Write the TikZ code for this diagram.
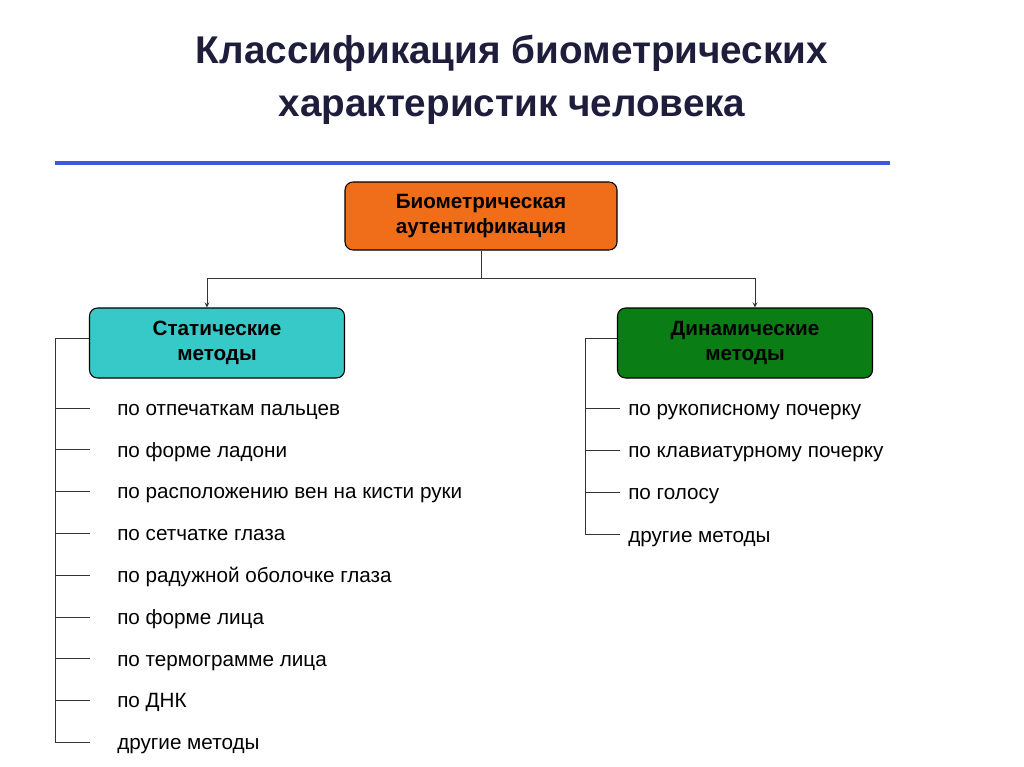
\documentclass[tikz,border=0pt]{standalone}
\usepackage{fontspec}
\setmainfont{Liberation Sans}
\definecolor{titlecol}{RGB}{30,30,60}
\definecolor{rulecol}{RGB}{60,90,220}
\definecolor{topcol}{RGB}{240,110,25}
\definecolor{statcol}{RGB}{55,200,200}
\definecolor{dyncol}{RGB}{10,125,20}
\begin{document}
\begin{tikzpicture}[x=0.75pt,y=-0.75pt,
    box/.style={rectangle, draw=black, thick, rounded corners=6pt, align=center, font=\bfseries\fontsize{15.5}{19}\selectfont},
    item/.style={anchor=west, inner sep=0pt, text height=1.6ex, text depth=0.4ex, font=\fontsize{15.5}{18}\selectfont},
    link/.style={draw=black!80, line width=0.7pt},
    arrow/.style={->, >=stealth, draw=black!80, line width=0.7pt}
]
\useasboundingbox (0,0) rectangle (1024,767);

\node[font=\bfseries\fontsize{29}{40}\selectfont, text=titlecol, align=center] (title) at (512,80) {Классификация биометрических\\характеристик человека};
\draw[rulecol, line width=2.5pt] (55,163) -- (890,163);

\node[box, fill=topcol, minimum width=272*0.75pt, minimum height=68*0.75pt] (auth) at (481,216) {Биометрическая\\аутентификация};
\node[box, fill=statcol, minimum width=255*0.75pt, minimum height=70*0.75pt] (stat) at (217,343) {Статические\\методы};
\node[box, fill=dyncol, minimum width=255*0.75pt, minimum height=70*0.75pt] (dyn) at (745,343) {Динамические\\методы};

\coordinate (fork) at (481,278);
\coordinate (forkl) at (207,278);
\coordinate (forkr) at (755,278);
\draw[link] (auth.south) -- (fork);
\draw[link] (forkl) -- (forkr);
\draw[arrow] (forkl) -- (forkl |- stat.north);
\draw[arrow] (forkr) -- (forkr |- dyn.north);

% static methods
\coordinate (ls) at (55,338);
\draw[link] (stat.west |- ls) -- (ls) -- (55,742);
\foreach \t [count=\i] in {по отпечаткам пальцев, по форме ладони, по расположению вен на кисти руки, по сетчатке глаза, по радужной оболочке глаза, по форме лица, по термограмме лица, по ДНК, другие методы} {
  \pgfmathsetmacro{\yy}{408+41.8*(\i-1)}
  \coordinate (lt\i) at (55,\yy);
  \draw[link] (lt\i) -- ++(35,0);
  \node[item] (s\i) at (117,\yy+3) {\t};
}

% dynamic methods
\coordinate (rs) at (585,338);
\draw[link] (dyn.west |- rs) -- (rs) -- (585,535);
\foreach \t [count=\i] in {по рукописному почерку, по клавиатурному почерку, по голосу, другие методы} {
  \pgfmathsetmacro{\yy}{408+42.3*(\i-1)}
  \coordinate (rt\i) at (585,\yy);
  \draw[link] (rt\i) -- ++(35,0);
  \node[item] (d\i) at (628,\yy+3) {\t};
}
\end{tikzpicture}
\end{document}
